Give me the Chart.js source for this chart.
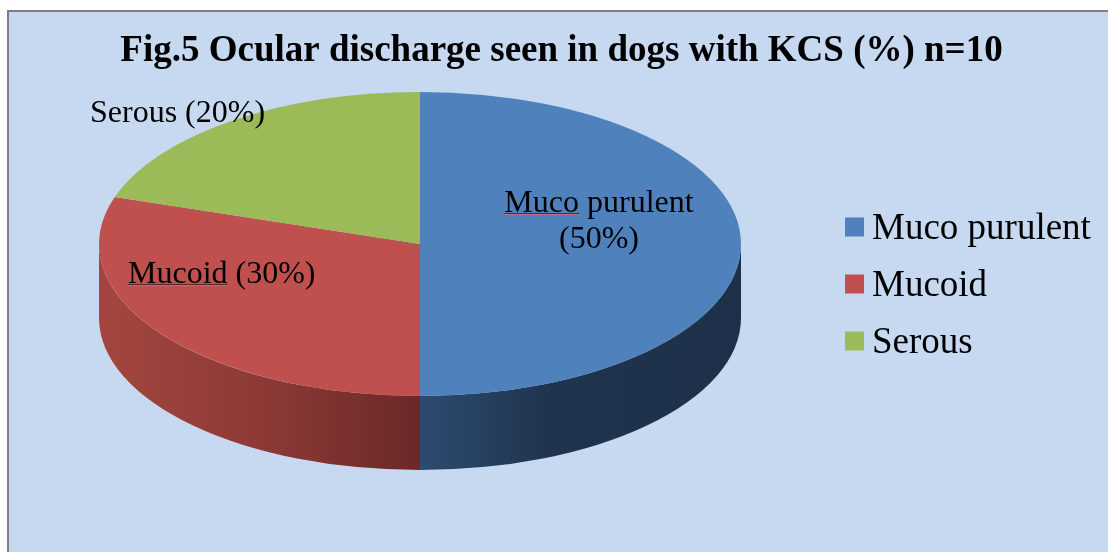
<!DOCTYPE html>
<html>
<head>
<meta charset="utf-8">
<script src="https://cdn.jsdelivr.net/npm/chart.js@4.4.1/dist/chart.umd.min.js"></script>
<style>
  html, body { margin: 0; padding: 0; background: #ffffff; width: 1108px; height: 552px; overflow: hidden; }
  #frame { position: absolute; left: 7px; top: 10px; width: 1200px; height: 700px;
           background: #c6d9f0; border-left: 2px solid #7f7f7f; border-top: 2px solid #7f7f7f; }
  #c { position: absolute; left: 0; top: 0; }
</style>
</head>
<body>
<div id="frame"></div>
<canvas id="c" width="1108" height="552"></canvas>
<script>
// ---- data ----
const categories = ['Muco purulent', 'Mucoid', 'Serous'];
const percentages = [50, 30, 20];
const titleText = 'Fig.5 Ocular discharge seen in dogs with KCS (%) n=10';

// ---- styles ----
const sliceColors = ['#4f81bd', '#c0504d', '#9bbb59'];
const sideGradients = [
  ['#2c4b6f', '#20344f', '#1e3049'],
  ['#a4463f', '#8d3a36', '#6b2828'],
  ['#7a9440', '#667c35', '#55682c']
];
const PIE = { cx: 420, cy: 244, rx: 321, ry: 152, depth: 74 };
const SERIF = '"Liberation Serif", "Times New Roman", serif';
// label anchors (page px) and underline flags
const labelLayout = [
  { lines: ['Muco purulent', '(50%)'], x: 599, y: [212, 248], align: 'center', underline: 'Muco' },
  { lines: ['Mucoid (30%)'], x: 128, y: [283], align: 'left', underline: 'Mucoid' },
  { lines: ['Serous (20%)'], x: 90, y: [122], align: 'left', underline: null }
];

const pie3d = {
  id: 'pie3d',
  beforeDatasetsDraw(chart) {
    const ctx = chart.ctx;
    const arcs = chart.getDatasetMeta(0).data;
    const R0 = arcs[0].outerRadius, ox = arcs[0].x, oy = arcs[0].y;
    // side walls (front half only, angles 0..PI)
    arcs.forEach((arc, i) => {
      const a1 = Math.max(arc.startAngle, 0), a2 = Math.min(arc.endAngle, Math.PI);
      if (a2 <= a1) return;
      const x1 = PIE.cx + PIE.rx * Math.cos(a2);
      const x2 = PIE.cx + PIE.rx * Math.cos(a1);
      const g = ctx.createLinearGradient(Math.min(x1, x2), 0, Math.max(x1, x2), 0);
      const cols = sideGradients[i];
      g.addColorStop(0, cols[0]); g.addColorStop(i === 0 ? 0.4 : 0.5, cols[1]); g.addColorStop(1, cols[2]);
      ctx.save();
      ctx.beginPath();
      ctx.ellipse(PIE.cx, PIE.cy, PIE.rx, PIE.ry, 0, a1, a2, false);
      ctx.ellipse(PIE.cx, PIE.cy + PIE.depth, PIE.rx, PIE.ry, 0, a2, a1, true);
      ctx.closePath();
      ctx.fillStyle = g;
      ctx.fill();
      ctx.restore();
    });
    // flatten the library's pie into the top ellipse
    ctx.save();
    ctx.translate(PIE.cx, PIE.cy);
    ctx.scale(PIE.rx / R0, PIE.ry / R0);
    ctx.translate(-ox, -oy);
  },
  afterDatasetsDraw(chart) {
    const ctx = chart.ctx;
    ctx.restore();
    // data labels
    ctx.save();
    ctx.font = '32px ' + SERIF;
    ctx.fillStyle = '#000000';
    ctx.textBaseline = 'alphabetic';
    labelLayout.forEach((L) => {
      ctx.textAlign = L.align;
      L.lines.forEach((t, k) => ctx.fillText(t, L.x, L.y[k]));
      if (L.underline) {
        const full = ctx.measureText(L.lines[0]).width;
        const w = ctx.measureText(L.underline).width;
        const left = L.align === 'center' ? L.x - full / 2 : L.x;
        ctx.fillStyle = 'rgba(40,20,30,0.7)';
        ctx.fillRect(left, L.y[0] + 1, w, 1);
        ctx.fillStyle = 'rgba(220,100,120,0.8)';
        ctx.fillRect(left, L.y[0] + 2, w, 1);
        ctx.fillStyle = '#000000';
      }
    });
    // legend
    ctx.textAlign = 'left';
    ctx.font = '37px ' + SERIF;
    categories.forEach((c, i) => {
      const yc = 227 + i * 57;
      ctx.fillStyle = sliceColors[i];
      ctx.fillRect(845, yc - 9.5, 19, 19);
      ctx.fillStyle = '#000000';
      ctx.fillText(c, 872, yc + 12);
    });
    ctx.restore();
  }
};

new Chart(document.getElementById('c'), {
  type: 'pie',
  data: {
    labels: categories,
    datasets: [{
      data: percentages,
      backgroundColor: sliceColors,
      borderWidth: 0,
      clip: false
    }]
  },
  options: {
    responsive: false,
    animation: false,
    events: [],
    layout: { padding: { left: 15, top: 0, right: 0, bottom: 0 } },
    plugins: {
      legend: { display: false },
      tooltip: { enabled: false },
      title: {
        display: true,
        text: titleText,
        color: '#000000',
        font: { family: SERIF, size: 37, weight: 'bold' },
        padding: { top: 29, bottom: 10 }
      }
    }
  },
  plugins: [pie3d]
});
</script>
</body>
</html>
